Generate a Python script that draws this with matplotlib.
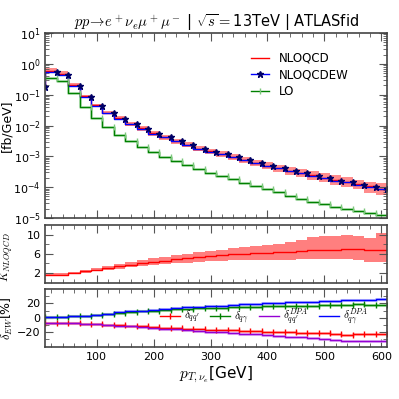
"""
plot.py

Nachbau der pT(nu_e)-Verteilung fuer pp -> e+ nu_e mu+ mu- (13 TeV, ATLASfid)
mit K-Faktor- und EW-Korrektur-Panel.
"""

import matplotlib
matplotlib.use("Agg")
import matplotlib.pyplot as plt
from matplotlib.ticker import MultipleLocator, FixedLocator, LogLocator, NullFormatter

plt.rcParams["mathtext.fontset"] = "cm"
plt.rcParams["font.family"] = ["DejaVu Sans"]
plt.rcParams["font.size"] = 8

OUTPUT_PATH = "out.png"

# Bin-Grenzen (Punkte am rechten Rand der Bins, steps-pre)
PT_POINTS = [10, 30, 50, 70, 90, 110, 130, 150, 170, 190, 210, 230, 250, 270, 290,
             310, 330, 350, 370, 390, 410, 430, 450, 470, 490, 510, 530, 550, 570,
             590, 610]

# Hauptpanel [fb/GeV]
NLOQCD = [0.185, 0.595, 0.464, 0.21, 0.0875, 0.0446, 0.0263, 0.0172, 0.0115, 0.0081,
          0.0056, 0.00425, 0.00316, 0.0024, 0.00178, 0.00145, 1.2e-3, 9.6e-4, 7.8e-4,
          6.1e-4, 5.0e-4, 4.2e-4, 3.45e-4, 2.9e-4, 2.42e-4, 2.0e-4, 1.68e-4, 1.5e-4,
          1.26e-4, 1.06e-4, 8.9e-5]
NLOQCDEW = [0.173, 0.556, 0.434, 0.195, 0.082, 0.0418, 0.0248, 0.0163, 0.0109, 0.0077,
            0.0054, 0.0041, 0.00306, 0.00233, 0.00173, 0.00141, 1.16e-3, 9.3e-4, 7.6e-4,
            5.9e-4, 4.85e-4, 4.08e-4, 3.34e-4, 2.81e-4, 2.35e-4, 1.94e-4, 1.62e-4,
            1.43e-4, 1.2e-4, 1.01e-4, 8.5e-5]
LO = [0.355, 0.355, 0.284, 0.113, 0.039, 0.0171, 0.0089, 0.0049, 0.00307, 0.0020,
      0.00135, 9.7e-4, 7.05e-4, 5.1e-4, 3.8e-4, 2.95e-4, 2.3e-4, 1.78e-4, 1.38e-4,
      1.07e-4, 8.5e-5, 6.8e-5, 5.3e-5, 4.1e-5, 3.4e-5, 2.8e-5, 2.3e-5, 2.0e-5,
      1.72e-5, 1.48e-5, 1.22e-5]

# K-Faktor NLOQCD/LO mit Skalenband
K_CENTRAL = [1.6, 1.6, 1.6, 2.0, 2.35, 2.7, 3.05, 3.4, 3.75, 4.1, 4.4, 4.6, 4.85, 5.05,
             5.25, 5.55, 5.75, 5.9, 6.0, 6.15, 6.25, 6.35, 6.45, 6.6, 6.8, 6.9, 6.85,
             7.0, 7.0, 6.85, 6.8]
K_LOW = [1.4, 1.4, 1.4, 1.75, 2.05, 2.35, 2.65, 2.9, 3.2, 3.45, 3.65, 3.8, 4.0, 4.15,
         4.3, 4.45, 4.55, 4.65, 4.7, 4.75, 4.75, 4.8, 4.8, 4.85, 4.9, 4.9, 4.85, 4.9,
         4.8, 4.3, 4.2]
K_HIGH = [2.0, 2.0, 2.0, 2.3, 2.7, 3.1, 3.5, 3.9, 4.3, 4.7, 5.1, 5.4, 5.75, 6.0, 6.3,
          6.6, 6.9, 7.2, 7.4, 7.7, 7.9, 8.1, 8.4, 8.8, 9.4, 9.7, 9.8, 9.9, 9.7, 9.3, 10.3]

# EW-Korrekturen [%]
DELTA_QQ = [-7, -7, -7, -7.5, -8, -8.5, -9.5, -10, -11, -12, -12.5, -13.5, -14.5,
            -15.5, -16, -16.5, -17, -17.5, -18, -18.5, -19, -19.5, -20, -20.5, -21,
            -21.5, -23, -23.5, -22.5, -22.5, -22.5]
DELTA_QGAMMA = [0.5, 0.5, 0.5, 2, 3, 4.5, 5.5, 7, 8, 9, 10, 11, 12, 12.5, 13, 13.5, 14,
                14.5, 15, 15.5, 16, 16.5, 16.5, 17, 17, 17.5, 18, 18.5, 19, 18.5, 18.5]
DELTA_QQ_DPA = [-7, -7, -7, -7.5, -8, -9, -10, -11, -12, -13, -14, -15, -16, -17, -18,
                -19, -20, -21, -22, -23, -24, -25, -26, -26.5, -28, -29, -31, -31.5,
                -31.5, -31.5, -32]
DELTA_QGAMMA_DPA = [0.5, 0.5, 0.5, 2, 3, 4.5, 6, 7.5, 9, 10, 11.5, 12.5, 13.5, 14.5,
                    15.5, 16.5, 17, 18, 19, 19.5, 20, 21, 21.5, 22, 22.5, 23.5, 24, 24.5,
                    25, 25, 25.5]


def style_axes(ax) -> None:
    """
    Einheitliches Achsen-Styling: Ticks innen, auf allen Seiten.
    """
    for spine in ax.spines.values():
        spine.set_color("#444444")
        spine.set_linewidth(1.2)
    ax.tick_params(which="both", direction="in", top=True, right=True,
                   color="#555555", labelsize=8)
    ax.tick_params(which="major", length=6, width=0.8)
    ax.tick_params(which="minor", length=3, width=0.6)
    ax.set_xlim(10, 610)
    ax.xaxis.set_major_locator(MultipleLocator(100))
    ax.xaxis.set_minor_locator(MultipleLocator(20))


def plot_main(ax) -> None:
    band_low = [n * lo / k for n, lo, k in zip(NLOQCD, K_LOW, K_CENTRAL)]
    band_high = [n * hi / k for n, hi, k in zip(NLOQCD, K_HIGH, K_CENTRAL)]
    ax.fill_between(PT_POINTS, band_low, band_high, step="pre",
                    color="red", alpha=0.45, linewidth=0)
    ax.plot(PT_POINTS, LO, drawstyle="steps-pre", color="#a8dca8", lw=2.2, alpha=0.6)
    ax.plot(PT_POINTS, NLOQCD, drawstyle="steps-pre", color="red", lw=1.0,
            label="NLOQCD")
    ax.plot(PT_POINTS, NLOQCDEW, drawstyle="steps-pre", color="blue", lw=1.0,
            marker="*", markersize=5, markerfacecolor="#000066",
            markeredgecolor="#000066", label="NLOQCDEW")
    ax.plot(PT_POINTS, LO, drawstyle="steps-pre", color="green", lw=1.0,
            marker="|", markersize=5, markeredgecolor="#7cc87c", label="LO")

    ax.set_yscale("log")
    ax.set_ylim(1e-5, 10)
    ax.yaxis.set_major_locator(LogLocator(base=10, numticks=10))
    ax.yaxis.set_minor_locator(LogLocator(base=10, subs=range(2, 10), numticks=20))
    ax.yaxis.set_minor_formatter(NullFormatter())
    ax.set_ylabel("[fb/GeV]", fontsize=9)
    ax.yaxis.set_label_coords(-0.095, 0.5)
    ax.tick_params(labelbottom=False)
    ax.set_title(r"$pp\!\rightarrow\! e^+\nu_e\mu^+\mu^-$ | $\sqrt{s}=$13TeV | ATLASfid",
                 fontsize=10.5, pad=4)
    ax.legend(loc="upper right", bbox_to_anchor=(0.92, 0.955), frameon=False,
              fontsize=8.5, handlelength=1.5, handletextpad=0.9, labelspacing=0.3)


def plot_kfactor(ax) -> None:
    ax.fill_between(PT_POINTS, K_LOW, K_HIGH, step="pre", color="red", alpha=0.5,
                    linewidth=0)
    ax.plot(PT_POINTS, K_CENTRAL, drawstyle="steps-pre", color="red", lw=1.0)
    ax.set_ylim(0, 12)
    ax.yaxis.set_major_locator(FixedLocator([2, 6, 10]))
    ax.yaxis.set_minor_locator(FixedLocator([4, 8]))
    ax.set_ylabel(r"$K_{NLOQCD}$", fontsize=8.5)
    ax.yaxis.set_label_coords(-0.088, 0.45)
    ax.tick_params(labelbottom=False)


def plot_ew(ax) -> None:
    series = [
        (DELTA_QQ, "red", "#ff9a9a", "|", r"$\delta_{qq^{\prime}}$"),
        (DELTA_QGAMMA, "green", "#8fd18f", "|", r"$\delta_{q\gamma}$"),
        (DELTA_QQ_DPA, "darkviolet", "#d79af0", None, r"$\delta_{qq^{\prime}}^{DPA}$"),
        (DELTA_QGAMMA_DPA, "blue", "#9a9aff", None, r"$\delta_{q\gamma}^{DPA}$"),
    ]
    for values, color, light, marker, label in series:
        ax.plot(PT_POINTS, values, drawstyle="steps-pre", color=light, lw=2.2, alpha=0.7)
    for values, color, light, marker, label in series:
        ax.plot(PT_POINTS, values, drawstyle="steps-pre", color=color, lw=1.0,
                marker=marker, markersize=5, label=label)
    ax.set_ylim(-40, 40)
    ax.yaxis.set_major_locator(FixedLocator([-20, 0, 20]))
    ax.yaxis.set_minor_locator(FixedLocator([-30, -10, 10, 30]))
    ax.set_ylabel(r"$\delta_{EW}$[%]", fontsize=9)
    ax.yaxis.set_label_coords(-0.09, 0.5)
    ax.set_xlabel(r"$p_{T,\nu_e}$[GeV]", fontsize=11, labelpad=2)
    ax.legend(loc="center", bbox_to_anchor=(0.64, 0.52), ncol=4, frameon=False,
              fontsize=8, handlelength=1.8, handletextpad=0.4, columnspacing=0.9)


def main() -> None:
    fig = plt.figure(figsize=(3.99, 3.99), dpi=100)
    left, width = 0.114, 0.856
    ax_main = fig.add_axes([left, 0.4536, width, 0.4637])
    ax_k = fig.add_axes([left, 0.2915, width, 0.1446])
    ax_ew = fig.add_axes([left, 0.1311, width, 0.1446])

    for ax in (ax_main, ax_k, ax_ew):
        style_axes(ax)

    plot_main(ax_main)
    plot_kfactor(ax_k)
    plot_ew(ax_ew)

    fig.savefig(OUTPUT_PATH, dpi=100)
    plt.close(fig)


if __name__ == "__main__":
    main()
